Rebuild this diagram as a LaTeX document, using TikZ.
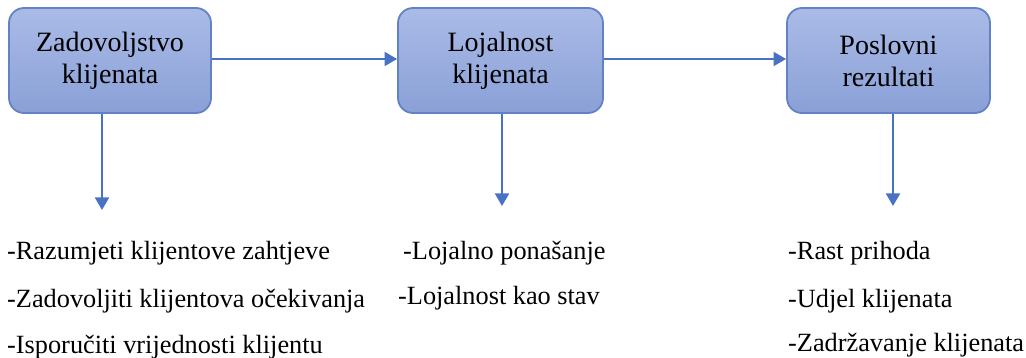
\documentclass[tikz,border=0pt]{standalone}
\usepackage{fontspec}
\setmainfont{Liberation Serif}
\usetikzlibrary{arrows.meta}
\definecolor{arrowblue}{HTML}{4A72C4}
\definecolor{boxtop}{HTML}{AABBE7}
\definecolor{boxbot}{HTML}{8AA0D6}
\definecolor{boxline}{HTML}{6382C6}
\tikzset{
  stagebox/.style={draw=boxline, line width=1.8pt, rounded corners=15pt,
    top color=boxtop, bottom color=boxbot, minimum height=105pt,
    align=center, font=\fontsize{28}{32}\selectfont, inner sep=0pt},
  conn/.style={draw=arrowblue, line width=1.8pt, -{Triangle[width=14pt,length=12.5pt]}},
  item/.style={anchor=base west, inner sep=0pt, font=\fontsize{26.3}{30}\selectfont}
}
\begin{document}
\begin{tikzpicture}[x=1pt,y=-1pt]
\useasboundingbox (0,0) rectangle (1026,358);
\node[stagebox, minimum width=202pt] (b1) at (110,60.5) {Zadovoljstvo\\klijenata};
\node[stagebox, minimum width=205pt] (b2) at (500.5,60.5) {Lojalnost\\klijenata};
\node[stagebox, minimum width=203pt] (b3) at (888.5,60.5) {Poslovni\\rezultati};
\coordinate (d1) at (102,210);
\coordinate (d2) at (502,206);
\coordinate (d3) at (893,206);
\draw[conn] (b1.east |- 0,59) -- (b2.west |- 0,59);
\draw[conn] (b2.east |- 0,59) -- (b3.west |- 0,59);
\draw[conn] (b1.south -| d1) -- (d1);
\draw[conn] (b2.south -| d2) -- (d2);
\draw[conn] (b3.south -| d3) -- (d3);
\node[item] (l1) at (7,260) {-Razumjeti klijentove zahtjeve};
\node[item] (l2) at (7,307) {-Zadovoljiti klijentova očekivanja};
\node[item] (l3) at (7,353) {-Isporučiti vrijednosti klijentu};
\node[item] (m1) at (403,260) {-Lojalno ponašanje};
\node[item] (m2) at (398,305) {-Lojalnost kao stav};
\node[item] (r1) at (788,260) {-Rast prihoda};
\node[item] (r2) at (788,307) {-Udjel klijenata};
\node[item] (r3) at (788,352) {-Zadržavanje klijenata};
\end{tikzpicture}
\end{document}
